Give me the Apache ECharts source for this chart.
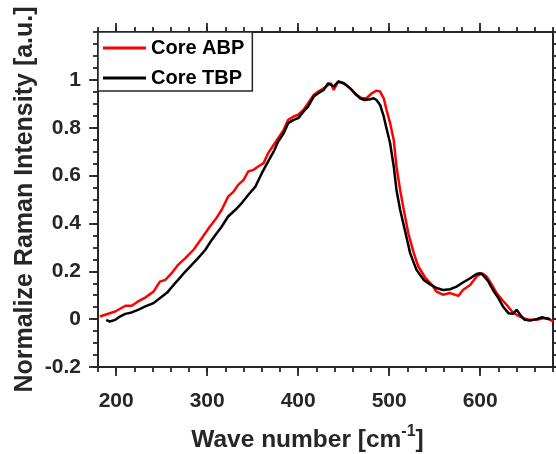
<!DOCTYPE html>
<html>
<head>
<meta charset="utf-8">
<script src="https://cdn.jsdelivr.net/npm/echarts@6/dist/echarts.min.js"></script>
<style>
html,body{margin:0;padding:0;background:#fff;}
#chart{width:556px;height:454px;}
</style>
</head>
<body>
<div id="chart"></div>
<script>
// Core ABP (red)
const xABP = [182,199,210,217,224,232,241,248,254,261,268,276,285,294,303,310,316,323,329,334,340,345,351,356,362,367,373,378,384,389,395,400,406,411,417,422,428,433,436,439,444,450,455,459,464,470,475,481,486,490,494,497,501,505,508,512,516,521,527,532,540,547,552,559,567,576,581,589,596,602,607,613,618,624,629,635,640,647,655,662,669,675,680];
const yABP = [0.011,0.032,0.056,0.056,0.074,0.090,0.115,0.157,0.164,0.192,0.227,0.255,0.290,0.338,0.387,0.422,0.457,0.512,0.533,0.561,0.582,0.617,0.624,0.638,0.652,0.694,0.728,0.756,0.791,0.833,0.847,0.854,0.875,0.903,0.937,0.951,0.965,0.979,0.986,0.958,0.993,0.986,0.972,0.958,0.937,0.923,0.923,0.944,0.955,0.951,0.923,0.875,0.819,0.749,0.638,0.540,0.457,0.359,0.276,0.220,0.171,0.143,0.115,0.102,0.109,0.097,0.122,0.143,0.178,0.192,0.178,0.143,0.109,0.081,0.060,0.032,0.018,0.004,-0.003,-0.003,0.004,0.004,-0.010];
// Core TBP (black)
const xTBP = [189,193,199,204,210,217,224,232,241,250,256,263,268,276,283,290,298,305,309,316,323,331,338,345,353,360,367,373,378,384,389,395,400,406,411,417,422,428,433,439,444,446,450,457,462,468,473,479,483,486,490,494,497,501,505,508,512,518,523,530,538,545,552,559,567,574,581,589,596,600,603,609,614,620,625,631,636,640,644,649,655,662,668,675,677];
const yTBP = [-0.003,-0.010,-0.003,0.011,0.022,0.028,0.039,0.053,0.067,0.094,0.111,0.143,0.164,0.199,0.227,0.255,0.290,0.331,0.352,0.387,0.429,0.457,0.485,0.519,0.554,0.610,0.659,0.700,0.742,0.777,0.819,0.833,0.840,0.868,0.889,0.930,0.944,0.958,0.986,0.972,0.993,0.997,0.986,0.965,0.944,0.923,0.916,0.919,0.923,0.916,0.895,0.847,0.798,0.735,0.638,0.540,0.457,0.359,0.276,0.206,0.164,0.145,0.130,0.122,0.125,0.136,0.153,0.171,0.189,0.192,0.185,0.157,0.122,0.088,0.053,0.025,0.022,0.039,0.018,-0.003,-0.006,0.000,0.008,0.000,0.000];

const xTicks = [200,300,400,500,600];
const yTicks = [-0.2,0,0.2,0.4,0.6,0.8,1];
const seriesNames = ['Core ABP','Core TBP'];

const FONT = '"Liberation Sans", Arial, Helvetica, sans-serif';
const INK = '#262626';
const X_MIN = 180, X_MAX = 680, Y_MIN = -0.2, Y_MAX = 1.2;

function minorAxis(pos, min, max, interval, extra) {
  return Object.assign({
    type: 'value', position: pos, min: min, max: max, interval: interval,
    axisLine: {show: true, onZero: false, lineStyle: {color: INK, width: 2}},
    axisTick: {show: true, inside: false, length: 5, lineStyle: {color: INK, width: 1.8}},
    axisLabel: {show: false},
    splitLine: {show: false}
  }, extra || {});
}
function majorAxis(pos, min, max, ticks, extra) {
  return Object.assign({
    type: 'value', position: pos, min: min, max: max,
    axisLine: {show: false, onZero: false},
    axisTick: {show: true, inside: false, length: 9, customValues: ticks, lineStyle: {color: INK, width: 1.8}},
    axisLabel: {show: false},
    splitLine: {show: false}
  }, extra || {});
}

const chart = echarts.init(document.getElementById('chart'), null, {renderer: 'canvas'});
chart.setOption({
  backgroundColor: '#ffffff',
  animation: false,
  grid: {left: 98, right: 3, top: 32, bottom: 87, containLabel: false, outerBoundsMode: 'none'},
  xAxis: [
    minorAxis('bottom', X_MIN, X_MAX, 20, {
      name: '{a|Wave number [cm}{s|-1}{a|]}',
      nameLocation: 'middle', nameGap: 57,
      nameTextStyle: {
        padding: [0, 36, 0, 0],
        rich: {
          a: {fontFamily: FONT, fontWeight: 'bold', fontSize: 24.5, color: INK, lineHeight: 29, verticalAlign: 'bottom'},
          s: {fontFamily: FONT, fontWeight: 'bold', fontSize: 16, color: INK, lineHeight: 29, verticalAlign: 'top'}
        }
      }
    }),
    majorAxis('bottom', X_MIN, X_MAX, xTicks, {axisLabel: {
      show: true, customValues: xTicks, color: INK, fontFamily: FONT, fontWeight: 'bold', fontSize: 21, margin: 24
    }}),
    minorAxis('top', X_MIN, X_MAX, 20),
    majorAxis('top', X_MIN, X_MAX, xTicks)
  ],
  yAxis: [
    minorAxis('left', Y_MIN, Y_MAX, 0.05, {
      name: 'Normalize Raman Intensity [a.u.]',
      nameLocation: 'middle', nameGap: 60,
      nameTextStyle: {fontFamily: FONT, fontWeight: 'bold', fontSize: 25, color: INK}
    }),
    majorAxis('left', Y_MIN, Y_MAX, yTicks, {axisLabel: {
      show: true, customValues: yTicks, color: INK, fontFamily: FONT, fontWeight: 'bold', fontSize: 21, margin: 17,
      formatter: v => String(+(+v).toFixed(1))
    }}),
    minorAxis('right', Y_MIN, Y_MAX, 0.05),
    majorAxis('right', Y_MIN, Y_MAX, yTicks)
  ],
  legend: {
    show: true, orient: 'vertical', left: 98, top: 32,
    data: seriesNames.map(n => ({name: n, icon: 'rect'})), selectedMode: false,
    backgroundColor: '#ffffff', borderColor: INK, borderWidth: 1.5,
    padding: [5, 8, 2, 5], itemGap: 8, itemWidth: 43, itemHeight: 3,
    textStyle: {fontFamily: FONT, fontWeight: 'bold', fontSize: 20, color: '#000', lineHeight: 22}
  },
  series: [
    {name: seriesNames[0], type: 'line', xAxisIndex: 0, yAxisIndex: 0, symbol: 'none', showSymbol: false,
     lineStyle: {color: '#ff0000', width: 2.5}, itemStyle: {color: '#ff0000'},
     data: xABP.map((x, i) => [x, yABP[i]])},
    {name: seriesNames[1], type: 'line', xAxisIndex: 0, yAxisIndex: 0, symbol: 'none', showSymbol: false,
     lineStyle: {color: '#000000', width: 2.5}, itemStyle: {color: '#000000'},
     data: xTBP.map((x, i) => [x, yTBP[i]])}
  ]
});
</script>
</body>
</html>
